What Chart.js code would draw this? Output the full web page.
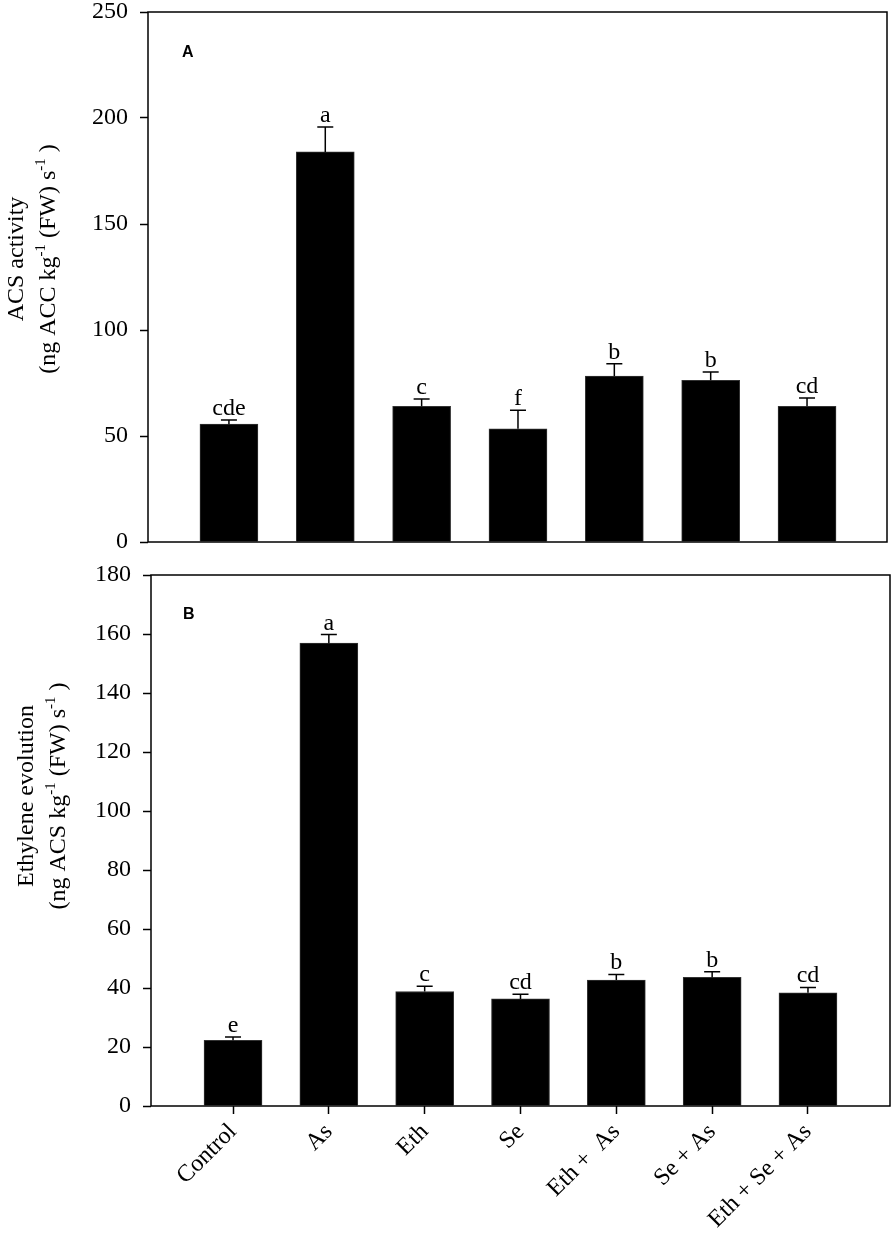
<!DOCTYPE html>
<html>
<head>
<meta charset="utf-8">
<script src="https://cdn.jsdelivr.net/npm/chart.js@4.4.0/dist/chart.umd.min.js"></script>
<style>
html, body { margin: 0; padding: 0; background: #fff; }
#wrap { position: relative; width: 893px; height: 1237px; }
canvas { position: absolute; left: 0; }
</style>
</head>
<body>
<div id="wrap">
  <canvas id="chartA" width="893" height="560" style="top:0"></canvas>
  <canvas id="chartB" width="893" height="677" style="top:560px"></canvas>
</div>
<script>
// treatments (x categories)
const treatments = ['Control', 'As', 'Eth', 'Se', 'Eth +  As', 'Se + As', 'Eth + Se + As'];

// panel A - ACS activity
const acsMean = [55.6, 184.0, 64.0, 53.4, 78.3, 76.3, 64.0];
const acsErr = [2.0, 11.8, 3.4, 8.8, 5.8, 3.9, 3.9];
const acsLetters = ['cde', 'a', 'c', 'f', 'b', 'b', 'cd'];
const acsYMax = 250;
const acsYStep = 50;

// panel B - ethylene evolution
const ethMean = [22.3, 156.9, 38.8, 36.3, 42.7, 43.6, 38.4];
const ethErr = [1.1, 2.9, 1.8, 1.6, 1.9, 1.9, 1.8];
const ethLetters = ['e', 'a', 'c', 'cd', 'b', 'b', 'cd'];
const ethYMax = 180;
const ethYStep = 20;

const SERIF = '"Liberation Serif", "Times New Roman", serif';

// y titles, superscripts marked
const acsTitle = [
    [{ t: 'ACS activity' }],
    [{ t: '(ng ACC kg' }, { t: '-1', sup: true }, { t: ' (FW) s' }, { t: '-1', sup: true }, { t: ' )' }]
];
const ethTitle = [
    [{ t: 'Ethylene evolution' }],
    [{ t: '(ng ACS kg' }, { t: '-1', sup: true }, { t: ' (FW) s' }, { t: '-1', sup: true }, { t: ' )' }]
];

// draw a line made of normal + superscript pieces, centred on 0
function drawRichLine(ctx, parts, y) {
    const font = '24px ' + SERIF;
    const supFont = '15px ' + SERIF;
    let total = 0;
    parts.forEach(p => {
        ctx.font = p.sup ? supFont : font;
        total += ctx.measureText(p.t).width;
    });
    let x = -total / 2;
    parts.forEach(p => {
        ctx.font = p.sup ? supFont : font;
        ctx.fillText(p.t, x, p.sup ? y - 10 : y);
        x += ctx.measureText(p.t).width;
    });
}

// box + error bars + letters + titles
const decorPlugin = {
    id: 'decor',
    afterDatasetsDraw(chart) {
        const o = chart.options.plugins.decor;
        const ctx = chart.ctx;
        const area = chart.chartArea;
        const y = chart.scales.y;
        const meta = chart.getDatasetMeta(0);

        ctx.save();
        ctx.strokeStyle = '#000';
        ctx.fillStyle = '#000';
        ctx.lineWidth = 1.5;

        // error bars (upper only)
        meta.data.forEach((bar, i) => {
            const yb = y.getPixelForValue(o.mean[i]);
            const yt = y.getPixelForValue(o.mean[i] + o.err[i]);
            ctx.beginPath();
            ctx.moveTo(bar.x, yb);
            ctx.lineTo(bar.x, yt);
            ctx.moveTo(bar.x - 8, yt);
            ctx.lineTo(bar.x + 8, yt);
            ctx.stroke();

            ctx.font = '24px ' + SERIF;
            ctx.textAlign = 'center';
            ctx.textBaseline = 'alphabetic';
            ctx.fillText(o.letters[i], bar.x, yt - 5);
        });

        // frame
        ctx.strokeRect(area.left, area.top, area.right - area.left, area.bottom - area.top);

        // panel letter
        ctx.font = 'bold 16px "Liberation Sans", Arial, sans-serif';
        ctx.textAlign = 'left';
        ctx.fillText(o.panel, o.panelX, o.panelY);

        // rotated y title
        ctx.translate(0, o.titleY);
        ctx.rotate(-Math.PI / 2);
        o.title.forEach((line, k) => {
            ctx.save();
            ctx.translate(0, o.titleX[k]);
            drawRichLine(ctx, line, 0);
            ctx.restore();
        });
        ctx.restore();
    }
};

function makePanel(id, g, mean, err, letters, yMax, yStep, title) {
    const H = document.getElementById(id).height;
    return new Chart(document.getElementById(id), {
        type: 'bar',
        data: {
            datasets: [{
                data: mean.map((v, i) => ({ x: i, y: v })),
                backgroundColor: '#000',
                borderColor: '#333',
                borderWidth: 1,
                barThickness: 58
            }]
        },
        options: {
            responsive: false,
            animation: false,
            devicePixelRatio: 1,
            layout: { padding: { top: g.top, right: 893 - g.right, left: 0, bottom: 0 } },
            plugins: {
                legend: { display: false },
                tooltip: { enabled: false },
                decor: {
                    mean: mean, err: err, letters: letters,
                    panel: g.panel, panelX: g.panelX, panelY: g.panelY,
                    title: title, titleX: g.titleX, titleY: g.titleY
                }
            },
            scales: {
                x: {
                    type: 'linear',
                    min: g.xMin,
                    max: g.xMax,
                    offset: false,
                    border: { display: false },
                    grid: {
                        display: g.showX,
                        offset: false,
                        drawOnChartArea: false,
                        drawTicks: true,
                        tickLength: 8,
                        tickColor: '#000',
                        tickWidth: 1.5
                    },
                    afterBuildTicks: s => { s.ticks = treatments.map((c, i) => ({ value: i })); },
                    afterFit: s => {
                        s.height = H - g.bottom;
                        s.paddingLeft = 0;
                        s.paddingRight = 0;
                    },
                    ticks: {
                        display: g.showX,
                        autoSkip: false,
                        minRotation: 45,
                        maxRotation: 45,
                        padding: 4,
                        color: '#000',
                        font: { family: SERIF, size: 24 },
                        callback: v => treatments[v]
                    }
                },
                y: {
                    min: 0,
                    max: yMax,
                    border: { display: false },
                    grid: {
                        drawOnChartArea: false,
                        drawTicks: true,
                        tickLength: 8,
                        tickColor: '#000',
                        tickWidth: 1.5
                    },
                    afterFit: s => {
                        s.width = g.left;
                        s.paddingTop = 0;
                        s.paddingBottom = 0;
                    },
                    ticks: {
                        stepSize: yStep,
                        padding: 12,
                        color: '#000',
                        font: { family: SERIF, size: 24 }
                    }
                }
            }
        },
        plugins: [decorPlugin]
    });
}

makePanel('chartA', {
    left: 148, top: 12, right: 887, bottom: 542,
    xMin: -0.84, xMax: 6.83, showX: false,
    panel: 'A', panelX: 182, panelY: 57,
    titleX: [23, 55], titleY: 259
}, acsMean, acsErr, acsLetters, acsYMax, acsYStep, acsTitle);

makePanel('chartB', {
    left: 151, top: 15, right: 890, bottom: 546,
    xMin: -0.856, xMax: 6.856, showX: true,
    panel: 'B', panelX: 183, panelY: 59,
    titleX: [33, 65], titleY: 236
}, ethMean, ethErr, ethLetters, ethYMax, ethYStep, ethTitle);
</script>
</body>
</html>
